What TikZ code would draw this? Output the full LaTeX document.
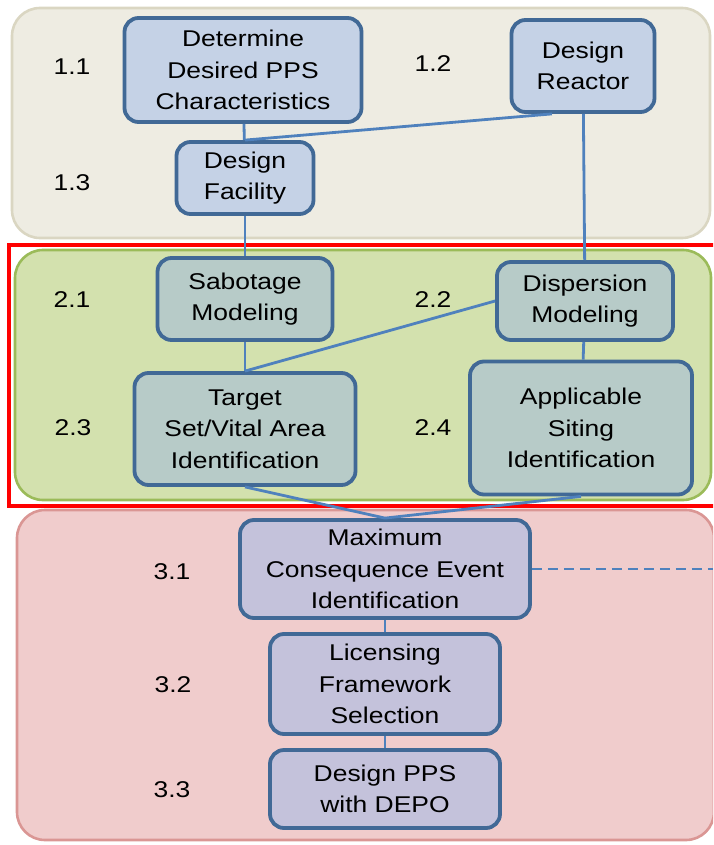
\documentclass[tikz,border=0pt]{standalone}
\usepackage{fontspec}
\setmainfont{Liberation Sans}[FakeStretch=1.16]
\usepackage{xcolor}

\definecolor{bandone}{RGB}{238,236,226}
\definecolor{bandoneline}{RGB}{218,214,194}
\definecolor{bandtwo}{RGB}{211,225,174}
\definecolor{bandtwoline}{RGB}{155,187,89}
\definecolor{bandthree}{RGB}{240,204,204}
\definecolor{bandthreeline}{RGB}{218,150,148}
\definecolor{boxline}{RGB}{65,105,150}
\definecolor{boxone}{RGB}{197,210,230}
\definecolor{boxtwo}{RGB}{183,203,200}
\definecolor{boxthree}{RGB}{196,194,219}
\definecolor{linkblue}{RGB}{79,129,189}

\begin{document}
\begin{tikzpicture}[
    x=0.5pt, y=-0.5pt,
    band/.style={line width=1.3pt, rounded corners=14pt},
    box/.style={rectangle, draw=boxline, line width=1.9pt, rounded corners=7pt, align=center, inner sep=2pt, font=\fontsize{11.4}{15.8}\selectfont},
    num/.style={font=\fontsize{11.4}{13}\selectfont},
    link/.style={draw=linkblue, line width=1.4pt},
]
\clip (0,0) rectangle (713,845);

% Bands
\draw[band, fill=bandone, draw=bandoneline] (12,8) rectangle (710,238);
\draw[band, fill=bandtwo, draw=bandtwoline] (15,250) rectangle (711,500);
\draw[band, fill=bandthree, draw=bandthreeline] (17,510) rectangle (714,840);
\draw[red, line width=2pt] (9,245) rectangle (718,506);

% Nodes
\node[box, fill=boxone, minimum width=118.5pt, minimum height=52pt] (ppschar) at (243,70) {Determine\\Desired PPS\\Characteristics};
\node[box, fill=boxone, minimum width=71.5pt, minimum height=46pt] (reactor) at (583,66) {Design\\Reactor};
\node[box, fill=boxone, minimum width=68.5pt, minimum height=36pt] (facility) at (245,178) {Design\\Facility};

\node[box, fill=boxtwo, minimum width=87.5pt, minimum height=41pt] (sabotage) at (245,299) {Sabotage\\Modeling};
\node[box, fill=boxtwo, minimum width=88pt, minimum height=39pt] (dispersion) at (585,301) {Dispersion\\Modeling};
\node[box, fill=boxtwo, minimum width=110.5pt, minimum height=56pt] (target) at (245,429) {Target\\Set/Vital Area\\Identification};
\node[box, fill=boxtwo, minimum width=111pt, minimum height=66.5pt] (siting) at (581,428) {Applicable\\Siting\\Identification};

\node[box, fill=boxthree, minimum width=145pt, minimum height=49pt] (mce) at (385,569) {Maximum\\Consequence Event\\Identification};
\node[box, fill=boxthree, minimum width=115pt, minimum height=50pt] (licensing) at (385,684) {Licensing\\Framework\\Selection};
\node[box, fill=boxthree, minimum width=115pt, minimum height=39pt] (depo) at (385,789) {Design PPS\\with DEPO};

% Step numbers
\node[num] (n11) at (72,67) {1.1};
\node[num] (n12) at (433,64) {1.2};
\node[num] (n13) at (72,183) {1.3};
\node[num] (n21) at (72,300) {2.1};
\node[num] (n22) at (433,300) {2.2};
\node[num] (n23) at (73,428) {2.3};
\node[num] (n24) at (433,428) {2.4};
\node[num] (n31) at (172,572) {3.1};
\node[num] (n32) at (173,685) {3.2};
\node[num] (n33) at (172,790) {3.3};

\coordinate (offpage) at (713,569);

% Links
\draw[link] (ppschar) -- (facility);
\draw[link] (reactor.-123) -- (facility.north);
\draw[link] (reactor) -- (dispersion);
\draw[link] (facility) -- (sabotage);
\draw[link] (sabotage) -- (target);
\draw[link] (dispersion.west) -- (target.north);
\draw[link] (dispersion) -- (siting);
\draw[link] (target.south) -- (mce.north);
\draw[link] (siting.south) -- (mce.north);
\draw[link] (mce) -- (licensing);
\draw[link] (licensing) -- (depo);
\draw[link, dashed, dash pattern=on 5pt off 3pt] (mce) -- (offpage);

\end{tikzpicture}
\end{document}
